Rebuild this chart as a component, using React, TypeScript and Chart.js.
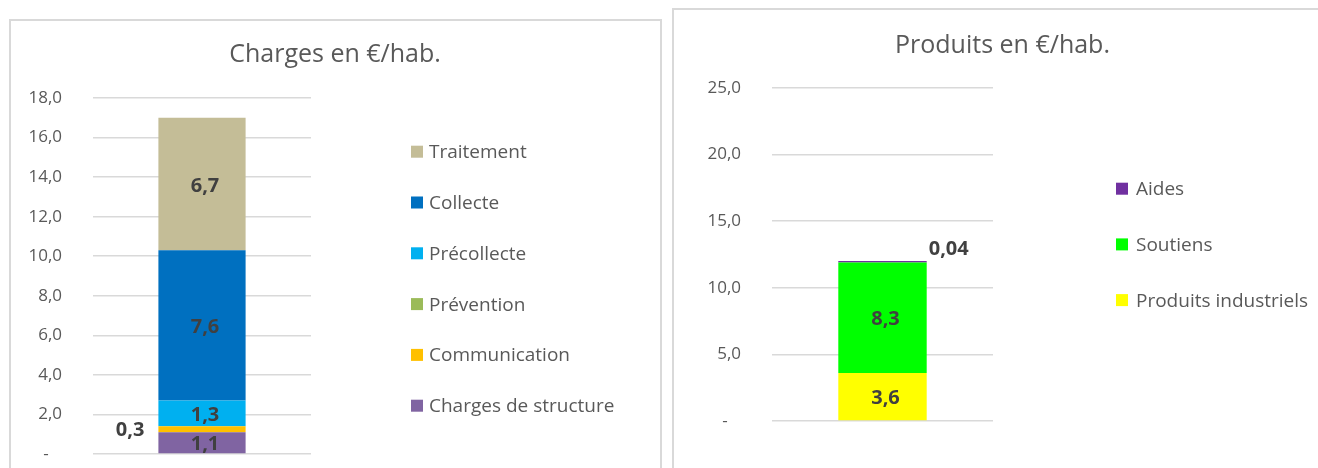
import React, { useEffect, useRef } from "react";
import { Chart, registerables } from "chart.js";

Chart.register(...registerables);

// ---- Data: Charges ----
const chargesCategories = ["Charges"];
const chargesSeries = ["Charges de structure", "Communication", "Prévention", "Précollecte", "Collecte", "Traitement"];
const chargesValues = [1.1, 0.3, 0, 1.3, 7.6, 6.7];
const chargesColors = ["#8064A2", "#FFC000", "#9BBB59", "#00B0F0", "#0070C0", "#C4BD97"];
const chargesTickLabels = ["-", "2,0", "4,0", "6,0", "8,0", "10,0", "12,0", "14,0", "16,0", "18,0"];
const chargesLabelPlacement = ["center", "left", "none", "center", "center", "center"];

// ---- Data: Produits ----
const produitsCategories = ["Produits"];
const produitsSeries = ["Produits industriels", "Soutiens", "Aides"];
const produitsValues = [3.6, 8.3, 0.04];
const produitsColors = ["#FFFF00", "#00FF00", "#7030A0"];
const produitsTickLabels = ["-", "5,0", "10,0", "15,0", "20,0", "25,0"];
const produitsLabelPlacement = ["center", "center", "topRight"];

const FONT = "'Open Sans', 'DejaVu Sans', sans-serif";
const TEXT = "#595959";
const LABEL = "#404040";
const GRID = "#d9d9d9";
const CANVAS_H = 500;

type Cfg = {
  title: string;
  categories: string[];
  series: string[];
  values: number[];
  colors: string[];
  tickLabels: string[];
  placement: string[];
  max: number;
  step: number;
  canvasLeft: number;
  canvasWidth: number;
  area: { left: number; right: number; top: number; bottom: number };
  titleX: number;
  titleY: number;
  legendSquareX: number;
  legendTextX: number;
  legendY0: number;
  legendDy: number;
  minBar?: number[];
};

const fmt = (v: number) =>
  v.toLocaleString("fr-FR", { minimumFractionDigits: 1, maximumFractionDigits: 2 });

function StackedChart({ cfg }: { cfg: Cfg }) {
  const ref = useRef<HTMLCanvasElement>(null);
  useEffect(() => {
    if (!ref.current) return;
    const overlay = {
      id: "overlay",
      afterDraw(chart: any) {
        const ctx = chart.ctx;
        ctx.save();
        // Title
        ctx.font = `25px ${FONT}`;
        ctx.fillStyle = TEXT;
        ctx.textAlign = "center";
        ctx.textBaseline = "alphabetic";
        ctx.fillText(cfg.title, cfg.titleX, cfg.titleY);
        // Legend (reverse order, top = last series)
        const n = chart.data.datasets.length;
        ctx.font = `19px ${FONT}`;
        ctx.textAlign = "left";
        ctx.textBaseline = "middle";
        for (let i = 0; i < n; i++) {
          const ds = chart.data.datasets[n - 1 - i];
          const cy = cfg.legendY0 + i * cfg.legendDy;
          ctx.fillStyle = ds.backgroundColor;
          ctx.fillRect(cfg.legendSquareX, cy - 6, 12, 12);
          ctx.fillStyle = TEXT;
          ctx.fillText(ds.label, cfg.legendTextX, cy + 1);
        }
        // Data labels
        ctx.font = `bold 20px ${FONT}`;
        ctx.fillStyle = LABEL;
        chart.data.datasets.forEach((ds: any, di: number) => {
          const meta = chart.getDatasetMeta(di);
          const el: any = meta.data[0];
          const v = ds.data[0];
          const place = cfg.placement[di];
          if (!el || place === "none" || !v) return;
          const left = el.x - el.width / 2;
          const right = el.x + el.width / 2;
          const top = Math.min(el.y, el.base);
          const mid = (el.y + el.base) / 2;
          if (place === "center") {
            ctx.textAlign = "center";
            ctx.fillText(fmt(v), el.x + 3, mid + 2);
          } else if (place === "left") {
            ctx.textAlign = "right";
            ctx.fillText(fmt(v), left - 14, mid + 1);
          } else if (place === "topRight") {
            ctx.textAlign = "left";
            ctx.fillText(fmt(v), right + 2, top - 12);
          }
        });
        ctx.restore();
      },
    };

    const chart = new Chart(ref.current, {
      type: "bar",
      data: {
        labels: cfg.categories,
        datasets: cfg.series.map((s, i) => ({
          label: s,
          data: [cfg.values[i]],
          backgroundColor: cfg.colors[i],
          borderWidth: 0,
          barPercentage: 0.4,
          categoryPercentage: 1,
          minBarLength: cfg.minBar ? cfg.minBar[i] : 0,
        })),
      },
      options: {
        animation: false,
        responsive: false,
        devicePixelRatio: 1,
        layout: {
          padding: {
            left: 0,
            right: cfg.canvasWidth - cfg.area.right,
            top: cfg.area.top,
            bottom: CANVAS_H - cfg.area.bottom,
          },
        },
        plugins: {
          legend: { display: false },
          title: { display: false },
          tooltip: { enabled: false },
        },
        scales: {
          x: { stacked: true, display: false },
          y: {
            stacked: true,
            min: 0,
            max: cfg.max,
            border: { display: false },
            grid: { color: GRID, lineWidth: 1.5, drawTicks: false },
            ticks: {
              stepSize: cfg.step,
              padding: 31,
              color: TEXT,
              font: { family: FONT, size: 17 },
              callback: (value: any) => {
                const idx = Math.round(Number(value) / cfg.step);
                const t = cfg.tickLabels[idx] ?? "";
                return idx === 0 ? t + "   " : t;
              },
            },
            afterFit: (scale: any) => {
              scale.width = cfg.area.left;
            },
          },
        },
      },
      plugins: [overlay],
    } as any);
    return () => chart.destroy();
  }, []);
  return (
    <canvas
      ref={ref}
      width={cfg.canvasWidth}
      height={CANVAS_H}
      style={{ position: "absolute", left: cfg.canvasLeft, top: 0, width: cfg.canvasWidth, height: CANVAS_H }}
    />
  );
}

const chargesCfg: Cfg = {
  title: "Charges en €/hab.",
  categories: chargesCategories,
  series: chargesSeries,
  values: chargesValues,
  colors: chargesColors,
  tickLabels: chargesTickLabels,
  placement: chargesLabelPlacement,
  max: 18,
  step: 2,
  canvasLeft: 0,
  canvasWidth: 665,
  area: { left: 93, right: 311, top: 98, bottom: 454 },
  titleX: 335,
  titleY: 62,
  legendSquareX: 411,
  legendTextX: 429,
  legendY0: 151.7,
  legendDy: 50.8,
};

const produitsCfg: Cfg = {
  title: "Produits en €/hab.",
  categories: produitsCategories,
  series: produitsSeries,
  values: produitsValues,
  colors: produitsColors,
  tickLabels: produitsTickLabels,
  placement: produitsLabelPlacement,
  max: 25,
  step: 5,
  canvasLeft: 667,
  canvasWidth: 651,
  area: { left: 105, right: 326, top: 88, bottom: 421 },
  titleX: 335.5,
  titleY: 53,
  legendSquareX: 449,
  legendTextX: 469,
  legendY0: 188.7,
  legendDy: 55.7,
  minBar: [0, 0, 1.5],
};

export default function App() {
  return (
    <div
      style={{
        position: "absolute",
        left: 0,
        top: 0,
        width: 1318,
        height: 468,
        overflow: "hidden",
        background: "#ffffff",
      }}
    >
      <div
        style={{
          position: "absolute",
          left: 9,
          top: 19,
          width: 653,
          height: 480,
          border: "2px solid #d9d9d9",
          boxSizing: "border-box",
        }}
      />
      <div
        style={{
          position: "absolute",
          left: 672,
          top: 8,
          width: 700,
          height: 480,
          border: "2px solid #d9d9d9",
          boxSizing: "border-box",
        }}
      />
      <StackedChart cfg={chargesCfg} />
      <StackedChart cfg={produitsCfg} />
    </div>
  );
}
